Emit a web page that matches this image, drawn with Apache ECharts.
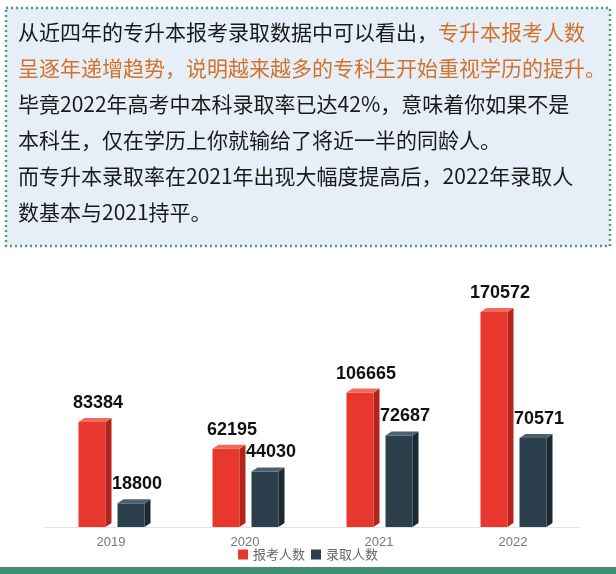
<!DOCTYPE html>
<html><head><meta charset="utf-8">
<script src="https://cdn.jsdelivr.net/npm/echarts@6/dist/echarts.min.js"></script>
<style>html,body{margin:0;padding:0;background:#fff}#c{width:616px;height:574px}</style>
</head><body><div id="c"></div>
<script>
var categories = ['2019','2020','2021','2022'];
var applicants = [83384, 62195, 106665, 170572];
var admitted = [18800, 44030, 72687, 70571];
var seriesNames = ['报考人数','录取人数'];

var chart = echarts.init(document.getElementById('c'));
function bar3d(offset, front, side, top) {
  return function (params, api) {
    var v = api.value(1);
    var p = api.coord([api.value(0), v]);
    var base = api.coord([api.value(0), 0]);
    var w = 27, d = 6, h = 4;
    var x0 = p[0] + offset - w / 2, x1 = x0 + w;
    return {type: 'group', children: [
      {type: 'rect', shape: {x: x0, y: p[1], width: w, height: base[1] - p[1]}, style: {fill: front}},
      {type: 'polygon', shape: {points: [[x1, p[1]], [x1 + d, p[1] - h], [x1 + d, base[1] - h], [x1, base[1]]]}, style: {fill: side}},
      {type: 'polygon', shape: {points: [[x0, p[1]], [x0 + d, p[1] - h], [x1 + d, p[1] - h], [x1, p[1]]]}, style: {fill: top}},
      {type: 'text', style: {text: String(v), x: p[0] + offset + 6, y: p[1] - 10, align: 'center', verticalAlign: 'bottom', fill: '#111', font: 'bold 18px Arial, "Liberation Sans", sans-serif'}}
    ]};
  };
}
function toData(arr) { return arr.map(function (v, i) { return [i, v]; }); }
chart.setOption({
  animation: false,
  graphic: [
    {type: 'rect', shape: {x: 6, y: 8, width: 604, height: 238}, style: {fill: '#e6eff7', stroke: '#4f9a78', lineWidth: 2.5, lineDash: [2, 3]}},
    {type: 'rect', shape: {x: 0, y: 567, width: 616, height: 7}, style: {fill: '#3f8f73'}},
    {type: 'text', left: 18, top: 22, style: {
      rich: {n: {fill: '#1a1a1a', fontSize: 21, lineHeight: 36, fontFamily: '"Noto Sans CJK SC"'},
             o: {fill: '#d4722c', fontSize: 21, lineHeight: 36, fontFamily: '"Noto Sans CJK SC"'}},
      text: '{n|从近四年的专升本报考录取数据中可以看出，}{o|专升本报考人数}\n{o|呈逐年递增趋势，说明越来越多的专科生开始重视学历的提升。}\n{n|毕竟2022年高考中本科录取率已达42%，意味着你如果不是}\n{n|本科生，仅在学历上你就输给了将近一半的同龄人。}\n{n|而专升本录取率在2021年出现大幅度提高后，2022年录取人}\n{n|数基本与2021持平。}'
    }}
  ],
  grid: {left: 44, right: 36, top: 275, bottom: 47},
  legend: {bottom: 8, left: 'center', itemWidth: 10, itemHeight: 10, itemGap: 6, icon: 'rect',
    textStyle: {color: '#666', fontSize: 13, fontFamily: '"Noto Sans CJK SC"'},
    data: [{name: seriesNames[0], itemStyle: {color: '#e8372c'}}, {name: seriesNames[1], itemStyle: {color: '#2b3f4c'}}]},
  xAxis: {type: 'category', data: categories, axisTick: {show: false},
    axisLine: {lineStyle: {color: '#e3e3e3'}},
    axisLabel: {color: '#777', fontSize: 13, margin: 9, fontFamily: 'Arial, sans-serif'}},
  yAxis: {type: 'value', min: 0, max: 200000, show: false, splitLine: {show: false}},
  series: [
    {name: seriesNames[0], type: 'custom', renderItem: bar3d(-19, '#e8372c', '#b4241c', '#f06a5e'), data: toData(applicants), itemStyle: {color: '#e8372c'}},
    {name: seriesNames[1], type: 'custom', renderItem: bar3d(20, '#2b3f4c', '#1b2a33', '#4b6170'), data: toData(admitted), itemStyle: {color: '#2b3f4c'}}
  ]
});
</script></body></html>
